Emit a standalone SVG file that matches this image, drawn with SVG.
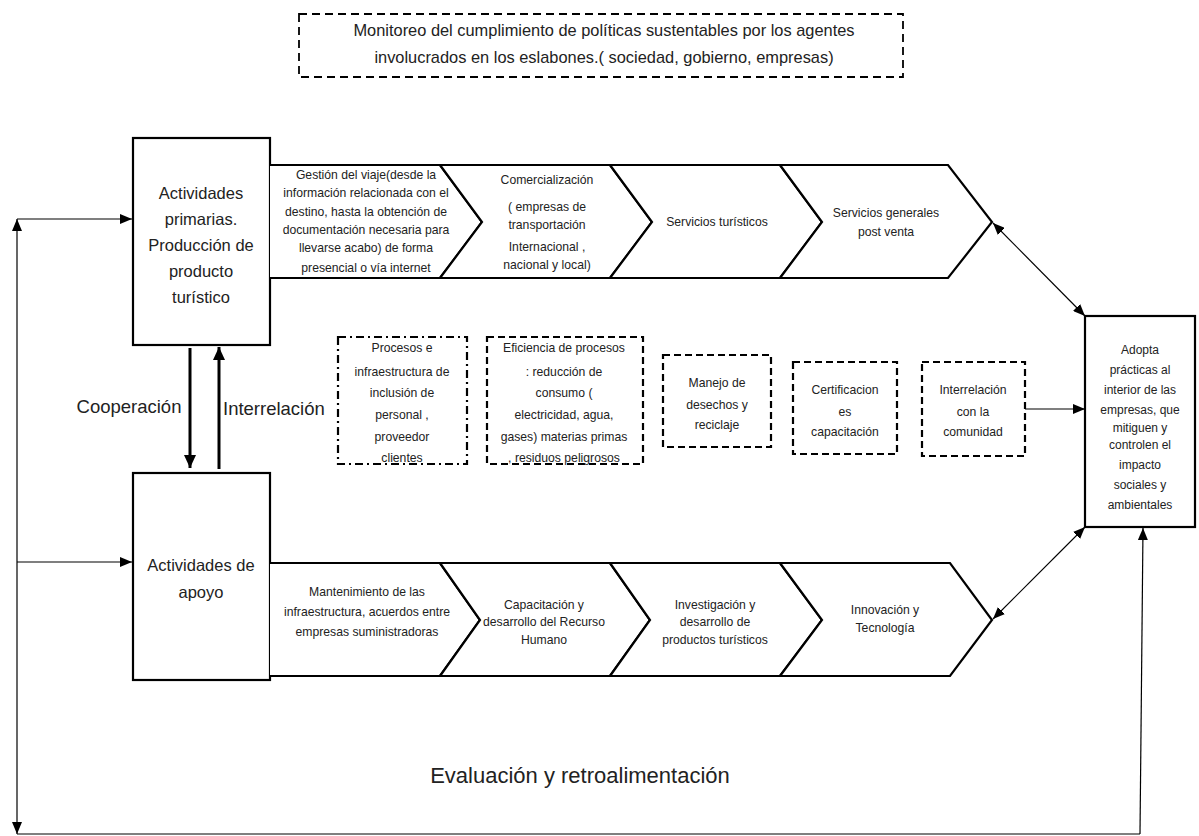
<svg xmlns="http://www.w3.org/2000/svg" width="1199" height="836" viewBox="0 0 1199 836">
<style>
text{font-family:"Liberation Sans",Arial,sans-serif;fill:#222;text-anchor:middle}
.box{fill:#fff;stroke:#000;stroke-width:2.2}
.chev{fill:#fff;stroke:#000;stroke-width:2.2;stroke-linejoin:miter}
.dash{fill:#fff;stroke:#000;stroke-width:2.2;stroke-dasharray:7 4}
.dashdot{fill:#fff;stroke:#000;stroke-width:2.2;stroke-dasharray:8 4 2 4}
.top{fill:#fff;stroke:#000;stroke-width:1.8;stroke-dasharray:8 5}
.thin{fill:none;stroke:#000;stroke-width:1.2}
.thick{fill:none;stroke:#000;stroke-width:3}
.t11{font-size:12.2px}
.t12{font-size:12px}
.t15{font-size:16.4px}
.t16{font-size:16.5px}
.t17{font-size:18.5px}
.t20{font-size:22px}
</style>
<defs>
<marker id="ah" markerUnits="userSpaceOnUse" markerWidth="12" markerHeight="10" refX="12" refY="5" orient="auto-start-reverse"><path d="M0,0 L12,5 L0,10 z" fill="#000"/></marker>
<marker id="ahb" markerUnits="userSpaceOnUse" markerWidth="13" markerHeight="12" refX="13" refY="6" orient="auto-start-reverse"><path d="M0,0 L13,6 L0,12 z" fill="#000"/></marker>
</defs>

<g id="monitoreo">
<rect class="top" x="299" y="14" width="604" height="63"/>
<text class="t15" x="604" y="36">Monitoreo del cumplimiento de políticas sustentables por los agentes</text>
<text class="t15" x="604" y="63">involucrados en los eslabones.( sociedad, gobierno, empresas)</text>
</g>

<g id="primarias">
<rect class="box" x="133" y="138" width="137" height="207"/>
<text class="t16" x="201" y="199">Actividades</text>
<text class="t16" x="201" y="225">primarias.</text>
<text class="t16" x="201" y="251">Producción de</text>
<text class="t16" x="201" y="277">producto</text>
<text class="t16" x="201" y="303">turístico</text>
</g>

<g id="apoyo">
<rect class="box" x="133" y="473" width="137" height="207"/>
<text class="t16" x="201" y="571">Actividades de</text>
<text class="t16" x="201" y="598">apoyo</text>
</g>

<g id="p1">
<path class="chev" d="M270,165 L440,165 L482,222 L440,278 L270,278"/>
<text class="t11" x="366" y="179">Gestión del viaje(desde la</text>
<text class="t11" x="366" y="197">información relacionada con el</text>
<text class="t11" x="366" y="216">destino, hasta la obtención de</text>
<text class="t11" x="366" y="234">documentación necesaria para</text>
<text class="t11" x="366" y="252">llevarse acabo) de forma</text>
<text class="t11" x="366" y="272">presencial o vía internet</text>
</g>
<g id="p2">
<path class="chev" d="M440,165 L610,165 L652,222 L610,278 L440,278 L482,222 Z"/>
<text class="t11" x="547" y="184">Comercialización</text>
<text class="t11" x="547" y="211">( empresas de</text>
<text class="t11" x="547" y="229">transportación</text>
<text class="t11" x="547" y="251">Internacional ,</text>
<text class="t11" x="547" y="269">nacional y local)</text>
</g>
<g id="p3">
<path class="chev" d="M610,165 L780,165 L822,222 L780,278 L610,278 L652,222 Z"/>
<text class="t11" x="717" y="226">Servicios turísticos</text>
</g>
<g id="p4">
<path class="chev" d="M780,165 L948,165 L992,222 L948,278 L780,278 L822,222 Z"/>
<text class="t11" x="886" y="217">Servicios generales</text>
<text class="t11" x="886" y="236">post venta</text>
</g>

<g id="s1">
<path class="chev" d="M270,563 L440,563 L480,620 L440,676 L270,676"/>
<text class="t11" x="367" y="596">Mantenimiento de las</text>
<text class="t11" x="367" y="616">infraestructura, acuerdos entre</text>
<text class="t11" x="367" y="636">empresas suministradoras</text>
</g>
<g id="s2">
<path class="chev" d="M440,563 L610,563 L650,620 L610,676 L440,676 L480,620 Z"/>
<text class="t11" x="544" y="609">Capacitación y</text>
<text class="t11" x="544" y="626">desarrollo del Recurso</text>
<text class="t11" x="544" y="644">Humano</text>
</g>
<g id="s3">
<path class="chev" d="M610,563 L780,563 L822,620 L780,676 L610,676 L650,620 Z"/>
<text class="t11" x="715" y="609">Investigación y</text>
<text class="t11" x="715" y="626">desarrollo de</text>
<text class="t11" x="715" y="644">productos turísticos</text>
</g>
<g id="s4">
<path class="chev" d="M780,563 L950,563 L992,620 L950,676 L780,676 L822,620 Z"/>
<text class="t11" x="885" y="614">Innovación y</text>
<text class="t11" x="885" y="632">Tecnología</text>
</g>

<g id="m1">
<rect class="dashdot" x="338" y="337" width="129" height="127"/>
<text class="t11" x="402" y="352">Procesos e</text>
<text class="t11" x="402" y="376">infraestructura de</text>
<text class="t11" x="402" y="397">inclusión de</text>
<text class="t11" x="402" y="419">personal ,</text>
<text class="t11" x="402" y="441">proveedor</text>
<text class="t11" x="402" y="462">clientes</text>
</g>
<g id="m2">
<rect class="dash" x="487" y="337" width="156" height="127"/>
<text class="t11" x="564" y="352">Eficiencia de procesos</text>
<text class="t11" x="564" y="376">: reducción de</text>
<text class="t11" x="564" y="397">consumo (</text>
<text class="t11" x="564" y="419">electricidad, agua,</text>
<text class="t11" x="564" y="441">gases) materias primas</text>
<text class="t11" x="564" y="462">, residuos peligrosos</text>
</g>
<g id="m3">
<rect class="dash" x="663" y="355" width="108" height="92"/>
<text class="t11" x="717" y="387">Manejo de</text>
<text class="t11" x="717" y="409">desechos y</text>
<text class="t11" x="717" y="429">reciclaje</text>
</g>
<g id="m4">
<rect class="dash" x="793" y="362" width="104" height="92"/>
<text class="t11" x="845" y="394">Certificacion</text>
<text class="t11" x="845" y="416">es</text>
<text class="t11" x="845" y="436">capacitación</text>
</g>
<g id="m5">
<rect class="dash" x="922" y="362" width="103" height="94"/>
<text class="t11" x="973" y="394">Interrelación</text>
<text class="t11" x="973" y="416">con la</text>
<text class="t11" x="973" y="436">comunidad</text>
</g>

<g id="adopta">
<rect class="box" x="1085" y="316" width="110" height="211"/>
<text class="t12" x="1140" y="354">Adopta</text>
<text class="t12" x="1140" y="374">prácticas al</text>
<text class="t12" x="1140" y="394">interior de las</text>
<text class="t12" x="1140" y="414">empresas, que</text>
<text class="t12" x="1140" y="432">mitiguen y</text>
<text class="t12" x="1140" y="449">controlen el</text>
<text class="t12" x="1140" y="469">impacto</text>
<text class="t12" x="1140" y="489">sociales y</text>
<text class="t12" x="1140" y="509">ambientales</text>
</g>

<g id="labels">
<text class="t17" x="129" y="413">Cooperación</text>
<text class="t17" x="223" y="415" style="text-anchor:start">Interrelación</text>
<text class="t20" x="580" y="783">Evaluación y retroalimentación</text>
</g>

<g id="connectors">
<line class="thick" x1="190" y1="348" x2="190" y2="468" marker-end="url(#ahb)"/>
<line class="thick" x1="219" y1="469" x2="219" y2="347" marker-end="url(#ahb)"/>
<line class="thin" x1="17" y1="219" x2="132" y2="219" marker-end="url(#ah)"/>
<line class="thin" x1="17" y1="562" x2="132" y2="562" marker-end="url(#ah)"/>
<line class="thin" x1="17" y1="834" x2="17" y2="219" marker-start="url(#ah)" marker-end="url(#ah)"/>
<line class="thin" x1="17" y1="834" x2="1140" y2="834"/>
<line class="thin" x1="1140" y1="834" x2="1143" y2="528" marker-end="url(#ah)"/>
<line class="thin" x1="993" y1="223" x2="1085" y2="316" marker-start="url(#ah)" marker-end="url(#ah)"/>
<line class="thin" x1="993" y1="619" x2="1085" y2="527" marker-start="url(#ah)" marker-end="url(#ah)"/>
<line class="thin" x1="1025" y1="409" x2="1085" y2="409" marker-end="url(#ah)"/>
</g>
</svg>
